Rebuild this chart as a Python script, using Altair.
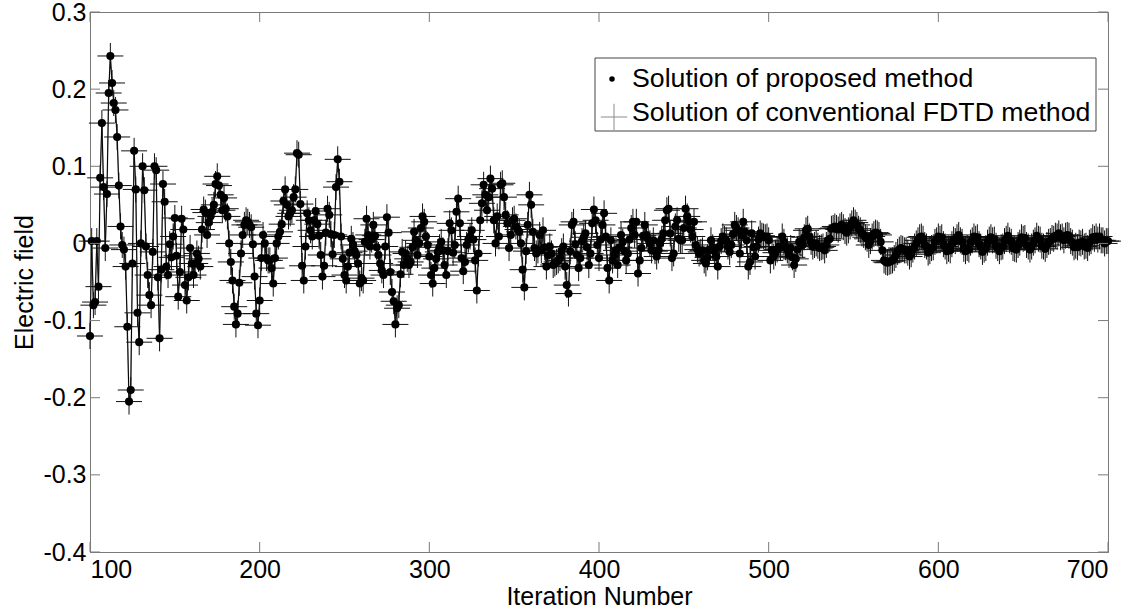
import altair as alt
import pandas as pd

# Electric field at every iteration, starting at iteration 100
iter_start = 100
electric_field = [
    # 100
    -0.120, 0.003, -0.080, -0.076, 0.003, -0.056, 0.085, 0.156, 0.073, -0.006,
    # 110
    0.064, 0.195, 0.243, 0.208, 0.182, 0.173, 0.138, 0.075, 0.022, -0.002,
    # 120
    -0.008, -0.030, -0.108, -0.205, -0.190, -0.026, 0.120, 0.070, -0.090, -0.128,
    # 130
    0.000, 0.100, 0.069, -0.004, -0.041, -0.067, -0.080, -0.011, 0.100, 0.095,
    # 140
    -0.044, -0.123, -0.034, 0.077, 0.054, -0.030, -0.041, -0.001, -0.018, 0.009,
    # 150
    0.033, -0.016, -0.069, -0.037, 0.032, 0.018, -0.054, -0.074, -0.044, -0.006,
    # 160
    -0.026, -0.041, -0.026, -0.013, -0.020, -0.030, 0.018, 0.044, 0.040, 0.011,
    # 170
    0.027, 0.035, 0.041, 0.050, 0.077, 0.087, 0.075, 0.063, 0.043, 0.059,
    # 180
    0.045, 0.035, 0.000, -0.024, -0.048, -0.082, -0.105, -0.091, -0.051, -0.013,
    # 190
    0.011, 0.024, 0.030, 0.028, 0.024, 0.021, -0.001, -0.043, -0.091, -0.106,
    # 200
    -0.074, -0.019, 0.011, 0.000, -0.019, -0.022, -0.022, -0.032, -0.052, -0.019,
    # 210
    0.000, 0.009, 0.015, 0.025, 0.055, 0.070, 0.050, 0.035, 0.039, 0.043,
    # 220
    0.060, 0.070, 0.117, 0.115, 0.051, -0.029, -0.048, -0.004, 0.039, 0.030,
    # 230
    0.017, 0.009, 0.030, 0.042, 0.025, 0.010, -0.015, -0.043, -0.029, 0.014,
    # 240
    0.045, 0.037, 0.012, -0.014, 0.011, 0.073, 0.109, 0.080, 0.009, -0.020,
    # 250
    -0.041, -0.048, -0.030, -0.012, 0.006, -0.002, -0.010, -0.015, -0.026, -0.052,
    # 260
    -0.045, -0.048, 0.002, 0.032, 0.011, -0.004, 0.005, 0.024, 0.010, -0.005,
    # 270
    -0.015, -0.026, -0.035, -0.041, -0.004, 0.034, 0.014, -0.037, -0.063, -0.075,
    # 280
    -0.105, -0.084, -0.080, -0.040, -0.011, -0.028, -0.013, -0.020, -0.028, -0.024,
    # 290
    -0.005, 0.015, 0.004, -0.015, 0.000, 0.020, 0.035, 0.028, 0.009, -0.002,
    # 300
    -0.017, -0.041, -0.052, -0.032, -0.020, -0.011, -0.005, 0.002, -0.009, -0.028,
    # 310
    -0.041, -0.010, 0.026, 0.017, -0.012, -0.002, 0.041, 0.058, 0.026, -0.019,
    # 320
    -0.036, -0.024, -0.002, 0.005, 0.009, 0.017, 0.005, -0.022, -0.061, -0.013,
    # 330
    0.030, 0.052, 0.076, 0.063, 0.043, 0.060, 0.084, 0.071, 0.030, 0.000,
    # 340
    0.035, 0.009, 0.076, 0.078, 0.060, 0.037, 0.026, -0.006, 0.011, 0.030,
    # 350
    0.032, 0.022, 0.018, 0.015, 0.000, -0.034, -0.057, -0.010, 0.024, 0.063,
    # 360
    0.050, 0.015, -0.006, -0.013, -0.009, 0.011, -0.009, 0.017, -0.005, -0.030,
    # 370
    -0.015, -0.004, -0.013, -0.028, -0.026, -0.024, -0.022, -0.019, -0.010, -0.004,
    # 380
    -0.030, -0.054, -0.065, -0.010, 0.024, 0.028, -0.001, -0.015, -0.032, -0.019,
    # 390
    0.003, 0.008, 0.013, -0.005, -0.028, -0.013, 0.026, 0.044, 0.030, -0.002,
    # 400
    -0.019, 0.005, 0.024, 0.039, 0.009, -0.032, -0.048, 0.004, -0.022, -0.015,
    # 410
    -0.009, -0.028, -0.005, 0.011, 0.002, -0.010, -0.022, -0.013, 0.005, 0.020,
    # 420
    0.028, 0.011, 0.028, -0.039, -0.022, -0.006, 0.010, 0.024, 0.011, 0.005,
    # 430
    0.000, -0.009, 0.004, -0.010, -0.017, -0.009, 0.000, 0.006, 0.013, 0.030,
    # 440
    0.043, 0.045, 0.013, -0.019, -0.013, 0.022, 0.030, 0.006, 0.004, 0.004,
    # 450
    0.020, 0.045, 0.035, 0.028, 0.018, 0.009, 0.028, -0.002, -0.008, -0.013,
    # 460
    -0.011, -0.009, -0.022, -0.026, -0.018, -0.009, 0.004, -0.005, -0.010, -0.017,
    # 470
    -0.030, -0.004, 0.003, 0.009, 0.006, 0.004, -0.004, -0.011, -0.002, 0.012,
    # 480
    0.024, 0.020, 0.017, -0.013, 0.010, 0.028, 0.015, 0.004, -0.030, -0.024,
    # 490
    0.013, -0.005, -0.017, -0.004, 0.005, 0.013, 0.010, 0.009, 0.008, 0.009,
    # 500
    0.004, -0.022, -0.009, -0.017, -0.012, -0.008, -0.004, -0.006, 0.009, 0.002,
    # 510
    -0.005, -0.009, -0.015, -0.006, -0.018, -0.028, -0.020, -0.008, 0.002, 0.000,
    # 520
    -0.002, 0.008, 0.017, 0.019, 0.009, 0.002, -0.004, -0.002, 0.000, -0.003,
    # 530
    -0.006, -0.005, -0.004, -0.009, -0.002, 0.004, 0.006, 0.019, 0.020, 0.022,
    # 540
    0.020, 0.018, 0.022, 0.024, 0.021, 0.016, 0.014, 0.017, 0.022, 0.026,
    # 550
    0.030, 0.027, 0.024, 0.019, 0.017, 0.013, 0.011, 0.008, 0.006, -0.002,
    # 560
    0.003, 0.009, 0.012, 0.014, 0.013, 0.011, 0.002, -0.009, -0.022, -0.024,
    # 570
    -0.025, -0.024, -0.023, -0.022, -0.019, -0.015, -0.011, -0.008, -0.006, -0.007,
    # 580
    -0.009, -0.009, -0.012, -0.017, -0.014, -0.008, -0.004, 0.000, 0.004, 0.008,
    # 590
    0.009, 0.006, -0.002, -0.004, -0.012, -0.010, -0.006, -0.005, 0.002, 0.004,
    # 600
    0.009, 0.006, 0.008, -0.001, -0.004, -0.010, -0.007, -0.009, -0.001, 0.005,
    # 610
    0.003, 0.008, 0.011, 0.004, 0.002, -0.007, -0.010, -0.006, -0.008, 0.001,
    # 620
    0.004, 0.009, 0.006, 0.008, -0.001, -0.004, -0.011, -0.008, -0.006, 0.001,
    # 630
    0.005, 0.008, 0.004, 0.005, -0.003, -0.006, -0.010, -0.005, -0.004, 0.003,
    # 640
    0.006, 0.010, 0.004, 0.002, -0.006, -0.007, -0.008, -0.002, 0.001, 0.008,
    # 650
    0.006, 0.007, -0.002, -0.004, -0.008, -0.004, 0.001, 0.004, 0.010, 0.006,
    # 660
    0.005, -0.003, -0.004, -0.007, -0.002, 0.002, 0.003, 0.007, 0.006, 0.010,
    # 670
    0.009, 0.013, 0.008, 0.009, 0.004, 0.010, 0.011, 0.010, 0.003, 0.001,
    # 680
    -0.005, -0.003, -0.005, 0.001, 0.000, 0.002, -0.004, -0.003, -0.006, 0.001,
    # 690
    0.003, 0.008, 0.006, 0.009, 0.005, 0.009, 0.004, 0.004, 0.000, 0.003,
    # 700
    0.003,
]

x_ticks = [100, 200, 300, 400, 500, 600, 700]
y_ticks = [-0.4, -0.3, -0.2, -0.1, 0.0, 0.1, 0.2, 0.3]
legend_labels = ["Solution of proposed method", "Solution of conventional FDTD method"]

df = pd.DataFrame({
    "iteration": list(range(iter_start, iter_start + len(electric_field))),
    "field": electric_field,
})

W, H = 1018, 540
FONT = "Liberation Sans"
AXIS_GREY = "#7a7a7a"
TICK_LEN = 10
PLUS = "M-1,0L1,0M0,-1L0,1"

x_scale = alt.Scale(domain=[100, 700], nice=False, zero=False)
y_scale = alt.Scale(domain=[-0.4, 0.3], nice=False, zero=False)

x_axis = alt.Axis(
    values=x_ticks, format="d", title="Iteration Number",
    ticks=False, tickSize=0, grid=False, domainColor=AXIS_GREY,
    labelFont=FONT, labelFontSize=25, labelColor="black", labelPadding=5,
    titleFont=FONT, titleFontSize=25, titleFontWeight="normal", titleColor="black",
    titlePadding=2,
)
y_axis = alt.Axis(
    values=y_ticks, title="Electric field",
    labelExpr="datum.value == 0 ? '0' : (datum.value < 0 ? '-' + format(-datum.value, '.1f') : format(datum.value, '.1f'))",
    ticks=False, tickSize=0, grid=False, domainColor=AXIS_GREY,
    labelFont=FONT, labelFontSize=25, labelColor="black", labelPadding=4,
    titleFont=FONT, titleFontSize=25, titleFontWeight="normal", titleColor="black",
    titlePadding=5,
)

X = alt.X("iteration:Q", scale=x_scale, axis=x_axis)
Y = alt.Y("field:Q", scale=y_scale, axis=y_axis)

base = alt.Chart(df).encode(x=X, y=Y)

fdtd_line = base.mark_line(color="#9a9a9a", strokeWidth=1.4)
proposed_line = base.mark_line(color="black", strokeWidth=1)
fdtd_plus = base.mark_point(shape=PLUS, filled=False, color="#111111",
                            strokeWidth=1, size=676, opacity=1)
proposed_dots = base.mark_point(shape="circle", filled=True, color="black",
                                size=66, opacity=1)

# inward tick marks on all four sides of the box
yt = pd.DataFrame({"field": y_ticks})
xt = pd.DataFrame({"iteration": x_ticks})
left_ticks = alt.Chart(yt).mark_rule(color=AXIS_GREY).encode(
    y=Y, x=alt.value(0), x2=alt.value(TICK_LEN))
right_ticks = alt.Chart(yt).mark_rule(color=AXIS_GREY).encode(
    y=Y, x=alt.value(W - TICK_LEN), x2=alt.value(W))
bottom_ticks = alt.Chart(xt).mark_rule(color=AXIS_GREY).encode(
    x=X, y=alt.value(H - TICK_LEN), y2=alt.value(H))
top_ticks = alt.Chart(xt).mark_rule(color=AXIS_GREY).encode(
    x=X, y=alt.value(0), y2=alt.value(TICK_LEN))

# legend box
leg = pd.DataFrame({"label": legend_labels})
legend_box = alt.Chart(leg.head(1)).mark_rect(
    fill="white", stroke="#444444", strokeWidth=1
).encode(x=alt.value(505), x2=alt.value(1006), y=alt.value(46), y2=alt.value(119))
legend_dot = alt.Chart(leg.head(1)).mark_point(
    shape="circle", filled=True, color="black", size=30, opacity=1
).encode(x=alt.value(522), y=alt.value(67))
legend_plus = alt.Chart(leg.head(1)).mark_point(
    shape=PLUS, filled=False, color="#8a8a8a", strokeWidth=1, size=700, opacity=1
).encode(x=alt.value(524), y=alt.value(105))
legend_text1 = alt.Chart(leg.iloc[[0]]).mark_text(
    align="left", baseline="alphabetic", font=FONT, fontSize=26.7, color="black"
).encode(text="label:N", x=alt.value(542), y=alt.value(75))
legend_text2 = alt.Chart(leg.iloc[[1]]).mark_text(
    align="left", baseline="alphabetic", font=FONT, fontSize=26.7, color="black"
).encode(text="label:N", x=alt.value(542), y=alt.value(109))

chart = alt.layer(
    fdtd_line, proposed_line, fdtd_plus, proposed_dots,
    left_ticks, right_ticks, bottom_ticks, top_ticks,
    legend_box, legend_dot, legend_plus, legend_text1, legend_text2,
).properties(
    width=W, height=H,
    autosize=alt.AutoSizeParams(type="none"),
    padding={"left": 90, "top": 12, "right": 34, "bottom": 61},
    background="white",
).configure_view(stroke=AXIS_GREY, strokeWidth=1)

chart.save("out.html", embed_options={"renderer": "svg", "actions": False})
